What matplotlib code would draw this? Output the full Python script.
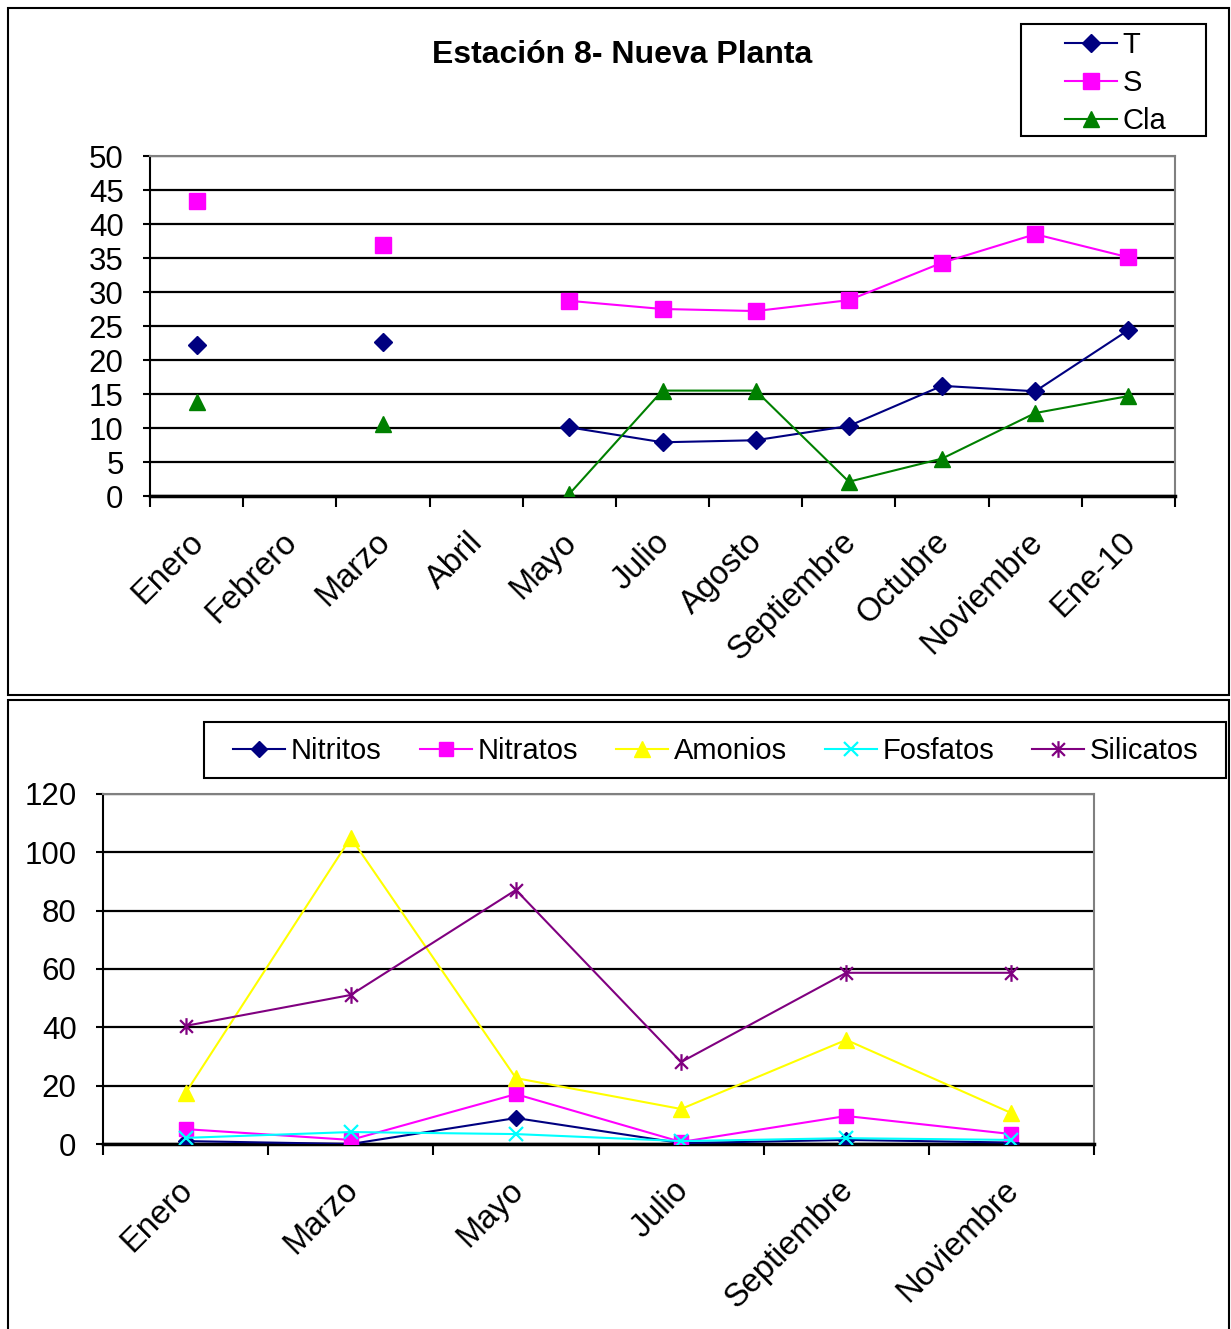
import numpy as np
import matplotlib
matplotlib.use("Agg")
import matplotlib.pyplot as plt
from matplotlib.path import Path
from matplotlib.patches import Rectangle

plt.rcParams['font.family'] = ['Liberation Sans', 'DejaVu Sans']

# ---- data: station 8, physico-chemical parameters ----
months_top = ["Enero", "Febrero", "Marzo", "Abril", "Mayo", "Julio", "Agosto",
              "Septiembre", "Octubre", "Noviembre", "Ene-10"]
temp = [22.2, np.nan, 22.6, np.nan, 10.1, 7.9, 8.2, 10.3, 16.2, 15.4, 24.4]
sal = [43.4, np.nan, 36.9, np.nan, 28.7, 27.5, 27.2, 28.8, 34.3, 38.5, 35.1]
cla = [13.8, np.nan, 10.6, np.nan, 0.3, 15.5, 15.5, 2.1, 5.5, 12.2, 14.7]

months_bottom = ["Enero", "Marzo", "Mayo", "Julio", "Septiembre", "Noviembre"]
nitritos = [1.0, 0.0, 8.9, 0.3, 1.4, 0.5]
nitratos = [5.1, 1.4, 17.1, 0.7, 9.6, 3.4]
amonios = [17.5, 105.0, 22.6, 12.0, 35.7, 10.6]
fosfatos = [2.1, 4.1, 3.4, 1.0, 2.0, 1.4]
silicatos = [40.5, 51.1, 87.1, 28.1, 58.7, 58.7]

W, H = 1231, 1329
fig = plt.figure(figsize=(W / 100, H / 100), dpi=100)


def frame(x0, y0, x1, y1, lw=1.5):
    """Black rectangle given in pixel coordinates (origin top-left)."""
    fig.patches.append(Rectangle((x0 / W, 1 - y1 / H), (x1 - x0) / W,
                                 (y1 - y0) / H, transform=fig.transFigure,
                                 fill=False, edgecolor='black', linewidth=lw,
                                 zorder=0))


# outer frames of both chart panels
frame(8, 8, 1229, 695)
frame(8, 700, 1229, 1345)

# asterisk marker: an x crossed by a vertical bar
star = Path([(-1, -1), (1, 1), (-1, 1), (1, -1), (0, -1.3), (0, 1.3)],
            [Path.MOVETO, Path.LINETO, Path.MOVETO, Path.LINETO,
             Path.MOVETO, Path.LINETO])

YFS = 22.5   # value tick labels
XFS = 23.5   # month labels
LFS = 21     # legend entries


def style_axes(ax, n, yticks, labels):
    ax.set_xlim(-0.5, n - 0.5)
    ax.set_ylim(yticks[0], yticks[-1])
    ax.set_yticks(yticks)
    ax.set_xticks(np.arange(n))
    ax.set_xticks(np.arange(n + 1) - 0.5, minor=True)
    ax.set_xticklabels(labels, rotation=45, ha='right', va='center_baseline',
                       rotation_mode='anchor', fontsize=XFS)
    ax.tick_params(axis='x', which='major', length=0, pad=28)
    ax.tick_params(axis='x', which='minor', length=8, width=1.5,
                   direction='out', color='black')
    ax.tick_params(axis='y', which='major', length=5, width=1.5,
                   direction='out', pad=14, labelsize=YFS)
    ax.grid(axis='y', color='black', linewidth=1.6, zorder=1)
    ax.set_axisbelow(True)
    for side in ('top', 'right'):
        ax.spines[side].set_color('#808080')
        ax.spines[side].set_linewidth(1.5)
    ax.spines['left'].set_linewidth(1.5)
    ax.spines['bottom'].set_linewidth(2.5)


def legend(handles, labels, x, y, ncol=1, labelspacing=0.35, colspacing=1.3):
    leg = fig.legend(handles, labels, loc='center left',
                     bbox_to_anchor=(x / W, 1 - y / H),
                     bbox_transform=fig.transFigure, fontsize=LFS, ncol=ncol,
                     frameon=False, borderpad=0, borderaxespad=0,
                     handlelength=52 / (LFS * 100 / 72), handletextpad=0.2,
                     labelspacing=labelspacing, columnspacing=colspacing)
    return leg


# ---- top chart ----
ax1 = fig.add_axes([150 / W, 1 - 496 / H, 1025 / W, 340 / H])
x1 = np.arange(len(months_top))
ax1.plot(x1, temp, color='#000080', marker='D', markersize=9.5, lw=1.5,
         label='T', zorder=3)
ax1.plot(x1, sal, color='#FF00FF', marker='s', markersize=11.5, lw=1.5,
         label='S', zorder=3)
ax1.plot(x1, cla, color='#008000', marker='^', markersize=11.5, lw=1.5,
         label='Cla', zorder=3)
style_axes(ax1, len(months_top), np.arange(0, 51, 5), months_top)
fig.text(622 / W, 1 - 55 / H, "Estación 8- Nueva Planta", ha='center',
         va='center', fontsize=23, fontweight='bold')
frame(1021, 24, 1206, 136)
h1, l1 = ax1.get_legend_handles_labels()
legend(h1, l1, 1065, 83)

# ---- bottom chart ----
ax2 = fig.add_axes([103 / W, 1 - 1144 / H, 991 / W, 350 / H])
x2 = np.arange(len(months_bottom))
ax2.plot(x2, nitritos, color='#000080', marker='D', markersize=8, lw=1.5,
         label='Nitritos', zorder=3)
ax2.plot(x2, nitratos, color='#FF00FF', marker='s', markersize=10, lw=1.5,
         label='Nitratos', zorder=3)
ax2.plot(x2, amonios, color='#FFFF00', marker='^', markersize=11, lw=1.5,
         label='Amonios', zorder=3)
ax2.plot(x2, fosfatos, color='#00FFFF', marker='x', markersize=10, lw=1.5,
         markeredgewidth=1.6, label='Fosfatos', zorder=3)
ax2.plot(x2, silicatos, color='#800080', marker=star, markersize=12, lw=1.5,
         markeredgewidth=1.6, label='Silicatos', zorder=3)
style_axes(ax2, len(months_bottom), np.arange(0, 121, 20), months_bottom)
frame(204, 722, 1226, 778)
h2, l2 = ax2.get_legend_handles_labels()
legend(h2, l2, 233, 751, ncol=5)

fig.savefig("out.png", dpi=100)
